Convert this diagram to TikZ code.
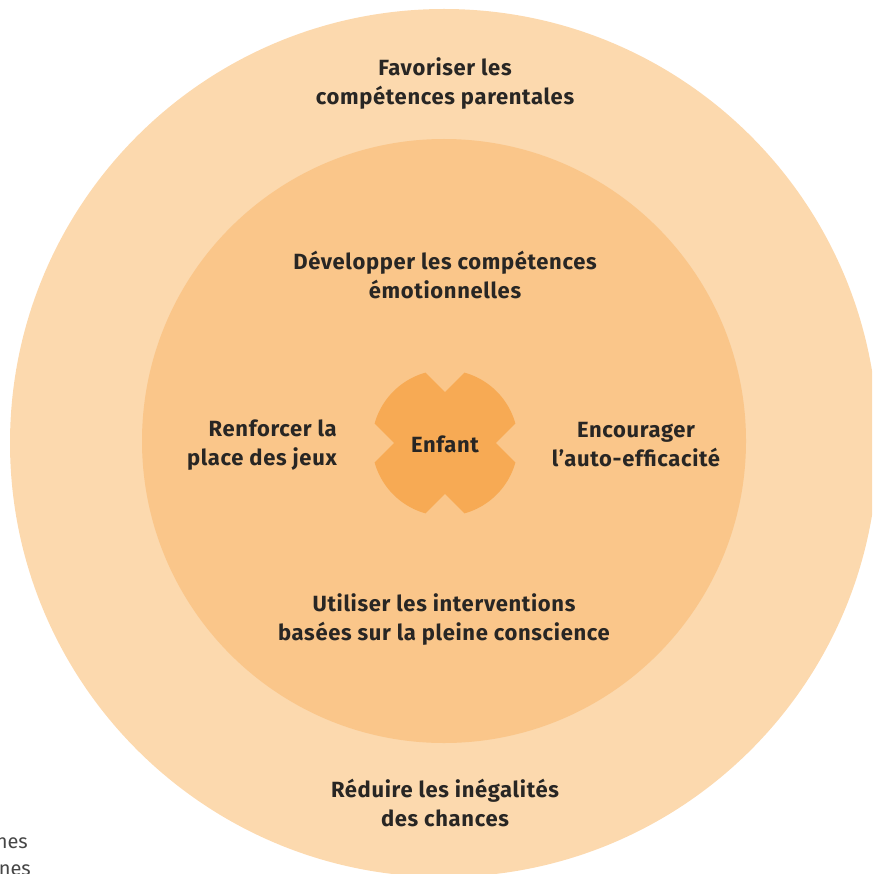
\documentclass[tikz,border=0pt]{standalone}
\usepackage{fontspec}
\setmainfont{Fira Sans}
\newfontfamily\lblfont[LetterSpace=3]{Fira Sans}
\definecolor{outerc}{RGB}{252,217,174}
\definecolor{innerc}{RGB}{250,198,138}
\definecolor{corec}{RGB}{247,170,84}
\definecolor{txtc}{RGB}{40,38,36}
\definecolor{greyc}{RGB}{70,70,70}
\begin{document}
\begin{tikzpicture}[x=1pt,y=-1pt,
  lbl/.style={font=\lblfont\bfseries\fontsize{22}{29}\selectfont, text=txtc, align=center, inner sep=0pt},
  frag/.style={font=\fontsize{20}{27}\selectfont, text=greyc, inner sep=0pt, anchor=east}]
\useasboundingbox (0,0) rectangle (872,874);
\begin{scope}
\clip (0,0) rectangle (872,874);
\fill[outerc] (444,443) circle[radius=434];
\fill[innerc] (444,441) circle[radius=302];
\begin{scope}
\clip (445,443) circle[radius=73];
\fill[corec, rotate around={45:(445,443)}] (345,407) rectangle (545,479);
\fill[corec, rotate around={-45:(445,443)}] (345,407) rectangle (545,479);
\end{scope}
\node[frag] (f1) at (28,843) {nes};
\node[frag] (f2) at (31,870) {nes};
\end{scope}
\node[lbl] (top) at (445,84) {Favoriser les\\compétences parentales};
\node[lbl] (dev) at (445,275) {Développer les compétences\\émotionnelles};
\node[lbl] (enf) at (445,444) {Enfant};
\node[lbl, align=right, anchor=east] (ren) at (337,445) {Renforcer la\\place des jeux};
\node[lbl] (enc) at (636,445) {Encourager\\l’auto-efficacité};
\node[lbl] (uti) at (444,620) {Utiliser les interventions\\basées sur la pleine conscience};
\node[lbl] (red) at (445,803) {Réduire les inégalités\\des chances};
\end{tikzpicture}
\end{document}
